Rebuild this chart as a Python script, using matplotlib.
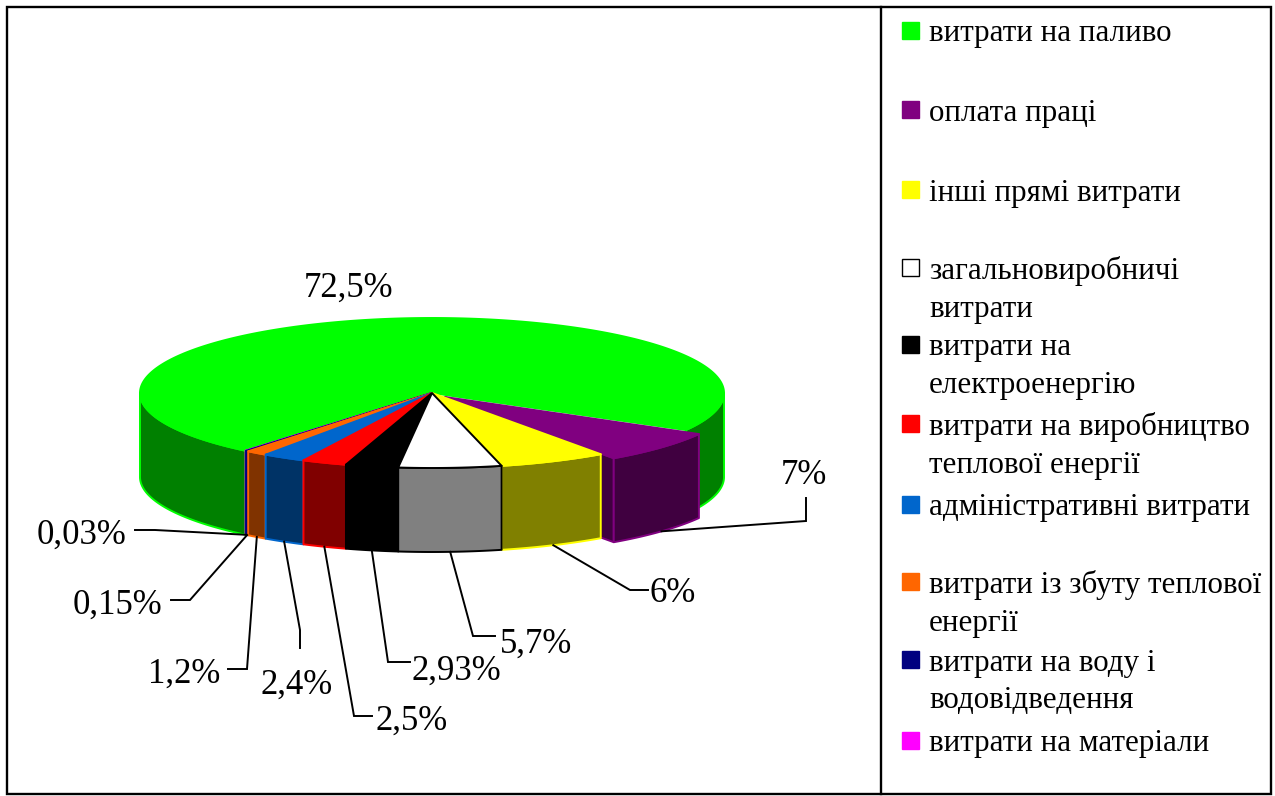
import numpy as np
import matplotlib.pyplot as plt
from matplotlib.patches import Polygon, Rectangle

plt.rcParams['font.family'] = ['Liberation Serif', 'DejaVu Serif']

# Data
names = ['витрати на паливо', 'оплата праці', 'інші прямі витрати',
         'загальновиробничі\nвитрати', 'витрати на\nелектроенергію',
         'витрати на виробництво\nтеплової енергії', 'адміністративні витрати',
         'витрати із збуту теплової\nенергії', 'витрати на воду і\nводовідведення',
         'витрати на матеріали']
values = [72.5, 7, 6, 5.7, 2.93, 2.5, 2.4, 1.2, 0.15, 0.03]
labels = ['72,5%', '7%', '6%', '5,7%', '2,93%', '2,5%', '2,4%', '1,2%', '0,15%', '0,03%']

# Style
colors = ['#00FF00', '#800080', '#FFFF00', '#FFFFFF', '#000000',
          '#FF0000', '#0066CC', '#FF6600', '#000080', '#FF00FF']
sides = ['#008000', '#400040', '#808000', '#808080', '#000000',
         '#800000', '#003366', '#803300', '#000040', '#800080']
edges = ['#00FF00', '#800080', '#FFFF00', '#000000', '#000000',
         '#FF0000', '#0066CC', '#FF6600', '#000080', '#FF00FF']

# Pie geometry, in pixels
cx, cy = 432, 393
rx, ry = 292, 75
depth = 84
start = 29.6
shift = {1: (13, 4)}

# Leader lines: elbow points and where each one ends, one entry per label after the first
leader_pts = {1: [(806, 521), (806, 498)], 2: [(630, 590), (648, 590)],
              3: [(473, 636), (495, 636)], 4: [(388, 662), (410, 662)],
              5: [(354, 716), (372, 716)], 6: [(300, 630), (300, 648)],
              7: [(247, 669), (228, 669)], 8: [(190, 600), (171, 600)],
              9: [(155, 530), (135, 530)]}
label_pos = {0: (349, 288), 1: (804, 476), 2: (673, 594), 3: (536, 644), 4: (456, 671),
             5: (412, 721), 6: (297, 685), 7: (184, 674), 8: (118, 605), 9: (82, 535)}
legend_y = [31, 110, 190, 268, 345, 424, 505, 582, 660, 741]

fig = plt.figure(figsize=(12.75, 7.96), dpi=100, facecolor='white')
ax = fig.add_axes([0, 0, 1, 1])
ax.set_xlim(0, 1275)
ax.set_ylim(796, 0)
ax.axis('off')

# Slice angles, clockwise on screen, green runs round the back
sweep = np.array(values) / sum(values) * 360
ends = start + np.cumsum(sweep[1:])
theta0 = [ends[-1] - 360, start] + list(ends[:-1])
theta1 = [start] + list(ends)


def rim(a, off=(0, 0)):
    a = np.radians(a)
    return np.column_stack([cx + off[0] + rx * np.cos(a), cy + off[1] + ry * np.sin(a)])


def add_wall(i, a, b, off):
    arc = rim(np.linspace(a, b, max(int((b - a) * 2), 8)), off)
    wall = np.vstack([arc, arc[::-1] + (0, depth)])
    ax.add_patch(Polygon(wall, fc=sides[i], ec=edges[i], lw=1.4, joinstyle='round'))


def draw_slice(i):
    off = shift.get(i, (0, 0))
    t0, t1 = theta0[i], theta1[i]
    pts = rim(np.linspace(t0, t1, max(int((t1 - t0) * 2), 8)), off)
    apex = (cx + off[0], cy + off[1])
    # the cut face of an exploded slice
    if i in shift:
        face = [apex, pts[-1], pts[-1] + (0, depth), (apex[0], apex[1] + depth)]
        ax.add_patch(Polygon(face, fc=sides[i], ec=edges[i], lw=1.4, joinstyle='round'))
    # outer wall, front half of the rim only
    if i == 0:
        add_wall(i, 0, t1, off)
        add_wall(i, t0 + 360, 180, off)
    else:
        add_wall(i, t0, t1, off)
    top = np.vstack([[apex], pts])
    ax.add_patch(Polygon(top, fc=colors[i], ec=edges[i], lw=1.4, joinstyle='round'))


for i in [0, 9, 8, 7, 6, 5, 4, 1, 2, 3]:
    draw_slice(i)

# Leader lines
for i, elbow in leader_pts.items():
    mid = (theta0[i] + theta1[i]) / 2
    anchor = rim(np.array([mid]), shift.get(i, (0, 0)))[0] + (0, depth)
    xs = [anchor[0]] + [p[0] for p in elbow]
    ys = [anchor[1]] + [p[1] for p in elbow]
    ax.plot(xs, ys, color='black', lw=1.4, solid_joinstyle='miter')

# Data labels
for i, txt in enumerate(labels):
    ax.text(label_pos[i][0], label_pos[i][1], txt, fontsize=25, ha='center', va='center', color='black')

# Legend
for name, c, y in zip(names, colors, legend_y):
    ec = 'black' if c == '#FFFFFF' else c
    ax.add_patch(Rectangle((902, y - 9), 17, 17, fc=c, ec=ec, lw=1))
    for k, line in enumerate(name.split('\n')):
        ax.text(929, y + 3 + k * 38, line, fontsize=22.3, ha='left', va='center', color='black')

# Frames
ax.add_patch(Rectangle((7, 7), 1264, 787, fc='none', ec='black', lw=1.7, zorder=5))
ax.plot([881, 881], [7, 794], color='black', lw=1.7, zorder=5)

fig.savefig('out.png', dpi=100)
